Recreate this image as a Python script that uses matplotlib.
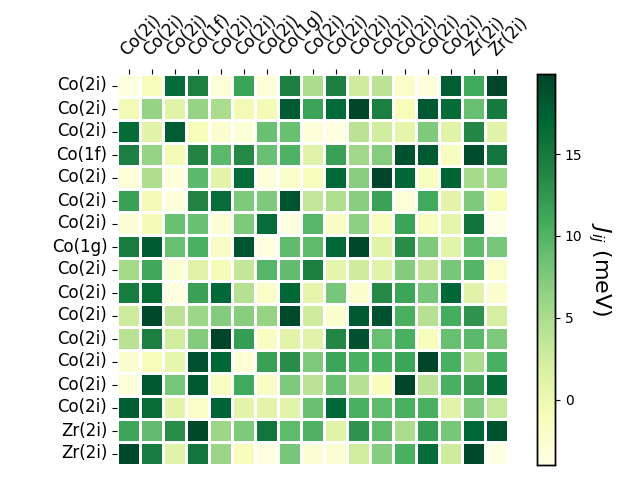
import matplotlib
matplotlib.use("Agg")
import matplotlib.pyplot as plt
import matplotlib.transforms as mtransforms
import seaborn as sns
import numpy as np

# подписи атомов
labels = ["Co(2i)", "Co(2i)", "Co(2i)", "Co(1f)", "Co(2i)", "Co(2i)", "Co(2i)", "Co(1g)",
          "Co(2i)", "Co(2i)", "Co(2i)", "Co(2i)", "Co(2i)", "Co(2i)", "Co(2i)", "Zr(2i)", "Zr(2i)"]

# обменные интегралы J_ij (meV), строки по порядку
row00 = [-3.5, -1.0, 16.5, 14.5, -3.0, 11.5, -3.0, 14.5, 5.0, 14.5, 2.8, 4.0, -2.0, -3.3, 17.8, 11.0, 19.9]
row01 = [-0.5, 6.3, 1.3, 6.3, 5.0, -0.5, -0.7, 18.0, 11.5, 16.7, 19.7, 14.5, -1.0, 18.2, 16.5, 8.8, 15.0]
row02 = [16.5, 1.2, 17.8, -1.0, -2.5, -3.0, 8.7, 8.7, -3.0, -3.8, 4.0, 2.6, 0.8, 7.6, 1.2, 13.8, 1.2]
row03 = [14.5, 6.3, -0.7, 14.0, 9.5, 13.6, 8.7, 10.2, 1.4, 11.7, 5.7, 7.2, 18.7, 18.2, -1.3, 19.3, 15.5]
row04 = [-3.0, 4.8, -3.2, 9.5, 1.0, 16.5, -3.2, -2.0, -1.2, 16.8, 7.0, 20.0, 17.0, -1.5, 17.2, 5.3, 5.9]
row05 = [11.7, -0.5, -3.2, 14.0, 16.4, 7.5, 7.5, 18.6, 3.5, 4.7, 7.0, 11.6, -3.0, 11.0, 1.0, 7.6, -1.0]
row06 = [-2.6, -0.7, 8.7, 8.7, -2.6, 7.6, 16.4, -3.7, 9.6, -1.8, 6.7, -1.3, 11.5, -1.3, 0.7, 15.6, -4.0]
row07 = [14.8, 18.0, 8.8, 10.3, -1.8, 18.6, -3.7, 9.3, 9.3, 17.0, 19.6, 1.3, 13.3, 7.6, 1.1, 9.2, 8.0]
row08 = [5.5, 11.2, -2.8, 1.3, -0.9, 3.5, 9.8, 9.1, 14.5, 0.7, 2.8, 1.3, 7.3, 3.5, 8.0, 9.9, -2.0]
row09 = [14.8, 16.4, -3.6, 11.7, 16.8, 4.4, -2.0, 17.0, 0.7, 8.0, -2.3, 13.5, 11.4, 8.0, 17.0, 1.3, -2.5]
row10 = [2.7, 19.6, 4.0, 5.9, 7.3, 7.0, 6.3, 19.5, 2.7, -2.3, 18.2, 18.8, 10.5, 4.4, 10.7, 12.8, 2.3]
row11 = [4.2, 14.5, 2.6, 7.3, 20.0, 12.0, -1.5, 1.1, 1.3, 13.8, 18.8, 8.8, 10.5, -1.2, 8.8, 9.5, 7.6]
row12 = [-2.4, -1.0, 0.6, 18.8, 17.0, -2.8, 11.7, 13.3, 7.6, 11.4, 10.5, 10.5, 11.4, 20.0, 10.5, 5.0, 10.5]
row13 = [-3.0, 18.3, 8.0, 18.3, -1.5, 11.0, -1.8, 7.5, 4.0, 8.7, 4.4, -1.2, 20.0, 4.0, 10.5, 12.0, 16.5]
row14 = [17.8, 16.4, 1.0, -2.0, 17.1, 1.0, 1.0, 1.1, 8.7, 17.0, 10.5, 9.2, 10.5, 10.5, 1.3, 7.6, 3.3]
row15 = [11.4, 9.1, 13.3, 19.6, 5.9, 7.6, 15.5, 9.3, 10.2, 1.3, 12.8, 9.3, 5.0, 12.0, 8.0, 17.0, 18.7]
row16 = [19.6, 14.8, 1.3, 15.5, 6.0, -1.2, -3.6, 8.0, -2.6, -2.6, 2.6, 7.2, 10.5, 16.5, 2.7, 19.6, -3.8]

J = np.array([row00, row01, row02, row03, row04, row05, row06, row07, row08,
              row09, row10, row11, row12, row13, row14, row15, row16])

fig = plt.figure(figsize=(6.4, 4.8), dpi=100)
ax = fig.add_axes([117 / 640, 15 / 480, 391 / 640, 391 / 480])
cax = fig.add_axes([537 / 640, 15 / 480, 18 / 640, 391 / 480])

sns.heatmap(J, ax=ax, cbar_ax=cax, cmap="YlGn", vmin=-4, vmax=19.9,
            linewidths=2, linecolor="white",
            xticklabels=labels, yticklabels=labels)

ax.xaxis.tick_top()
ax.set_xticklabels(labels, rotation=45, fontsize=12)
ax.set_yticklabels(labels, rotation=0, fontsize=12)

# сдвиг верхних подписей вправо-вверх, как на оригинале
shift = mtransforms.ScaledTranslation(12 / 100, 5 / 100, fig.dpi_scale_trans)
for lbl in ax.get_xticklabels():
    lbl.set_transform(lbl.get_transform() + shift)

# рамка колорбара и подпись
for s in cax.spines.values():
    s.set_visible(True)
    s.set_linewidth(1)
cax.set_yticks([0, 5, 10, 15])
cax.tick_params(labelsize=10)
cax.set_ylabel(r"$J_{ij}$ (meV)", rotation=270, fontsize=16, labelpad=22)

fig.savefig("out.png", dpi=100)
